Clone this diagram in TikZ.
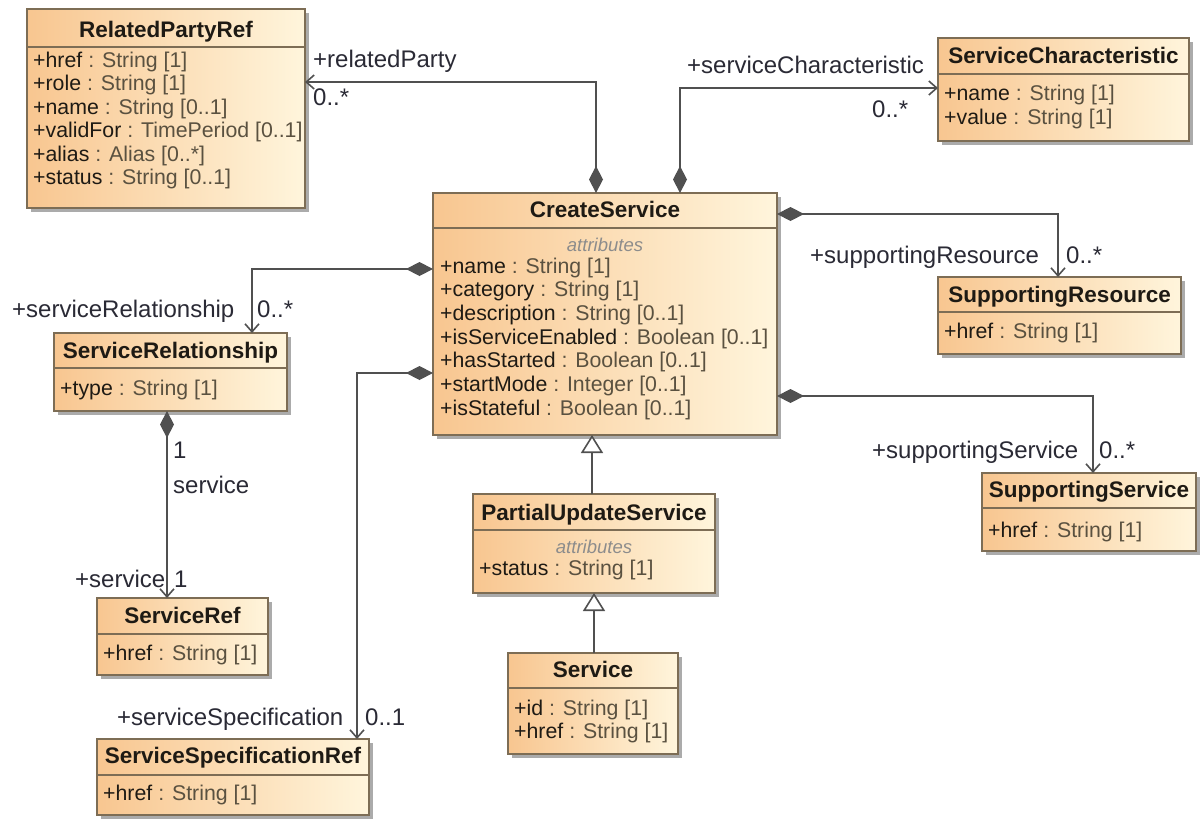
\documentclass[tikz,border=0pt]{standalone}
\usepackage{fontspec}
\setmainfont{Liberation Sans}
\usetikzlibrary{arrows.meta,calc,fit}

\definecolor{fillL}{HTML}{F8C690}
\definecolor{fillR}{HTML}{FFF5DC}
\definecolor{bord}{HTML}{7D6D55}
\definecolor{shad}{HTML}{ABABAB}
\definecolor{nmc}{HTML}{1E1A14}
\definecolor{tyc}{HTML}{5A5140}
\definecolor{linec}{HTML}{505050}
\definecolor{lblc}{HTML}{2A2A35}
\definecolor{stc}{HTML}{8C8C8C}

\tikzset{
  boxfill/.style={left color=fillL, right color=fillR, draw=bord, line width=1.4pt},
  ttl/.style={font=\fontsize{22.5}{24}\selectfont\bfseries, text=nmc, inner sep=0pt, anchor=base},
  attrrow/.style={font=\fontsize{21.3}{24}\selectfont, inner sep=0pt, anchor=base west, text=nmc},
  lbl/.style={font=\fontsize{24}{26}\selectfont, inner sep=0pt, anchor=base west, text=lblc},
  stereo/.style={font=\fontsize{18.5}{20}\selectfont\itshape, text=stc, inner sep=0pt, anchor=base},
  conn/.style={draw=linec, line width=1.6pt},
  comp/.style={conn, {Diamond[length=27pt,width=14pt,fill=linec]}-{Straight Barb[length=8pt,width=14pt]}},
  gen/.style={conn, -{Triangle[open,length=18pt,width=22pt,fill=white]}},
  anchorbox/.style={inner sep=0pt, outer sep=0pt, draw=none, fill=none},
}

% #1 name, #2 L, #3 T, #4 R, #5 B, #6 divider y, #7 title baseline, #8 title
\newcommand\umlclass[8]{%
  \fill[shad] (#2+4,#3+4) rectangle (#4+4,#5+4);
  \path[boxfill] (#2,#3) rectangle (#4,#5);
  \draw[bord, line width=1.4pt] (#2,#6) -- (#4,#6);
  \node[anchorbox, fit={(#2,#3) (#4,#5)}] (#1) {};
  \node[ttl] (#1-title) at ({(#2+#4)/2},#7) {#8};
}
\newcommand\att[2]{#1\ \textcolor{tyc}{: #2}}

\begin{document}
\begin{tikzpicture}[x=1pt, y=-1pt]
\useasboundingbox (0,0) rectangle (1200,819);
\fill[white] (0,0) rectangle (1200,819);

% ---------- classes ----------
\umlclass{rpr}{27}{9}{305}{208}{47}{37}{RelatedPartyRef}
\node[attrrow] (rpr-a1) at (33,67)    {\att{+href}{String [1]}};
\node[attrrow] (rpr-a2) at (33,90.5)  {\att{+role}{String [1]}};
\node[attrrow] (rpr-a3) at (33,114)   {\att{+name}{String [0..1]}};
\node[attrrow] (rpr-a4) at (33,137.5) {\att{+validFor}{TimePeriod [0..1]}};
\node[attrrow] (rpr-a5) at (33,161)   {\att{+alias}{Alias [0..*]}};
\node[attrrow] (rpr-a6) at (33,184.5) {\att{+status}{String [0..1]}};

\umlclass{sc}{938}{38}{1189}{141}{74}{63}{ServiceCharacteristic}
\node[attrrow] (sc-a1) at (944,100) {\att{+name}{String [1]}};
\node[attrrow] (sc-a2) at (944,124) {\att{+value}{String [1]}};

\umlclass{cs}{433}{193}{777}{435}{228}{217}{CreateService}
\node[stereo] (cs-st) at (605,251) {attributes};
\node[attrrow] (cs-a1) at (440,273)   {\att{+name}{String [1]}};
\node[attrrow] (cs-a2) at (440,296.7) {\att{+category}{String [1]}};
\node[attrrow] (cs-a3) at (440,320.4) {\att{+description}{String [0..1]}};
\node[attrrow] (cs-a4) at (440,344.1) {\att{+isServiceEnabled}{Boolean [0..1]}};
\node[attrrow] (cs-a5) at (440,367.8) {\att{+hasStarted}{Boolean [0..1]}};
\node[attrrow] (cs-a6) at (440,391.5) {\att{+startMode}{Integer [0..1]}};
\node[attrrow] (cs-a7) at (440,415.2) {\att{+isStateful}{Boolean [0..1]}};

\umlclass{sr}{938}{277}{1181}{354}{312}{302}{SupportingResource}
\node[attrrow] (sr-a1) at (944,338) {\att{+href}{String [1]}};

\umlclass{ss}{982}{473}{1196}{551}{508}{497}{SupportingService}
\node[attrrow] (ss-a1) at (988,537) {\att{+href}{String [1]}};

\umlclass{srel}{54}{333}{287}{411}{368}{358}{ServiceRelationship}
\node[attrrow] (srel-a1) at (60,395) {\att{+type}{String [1]}};

\umlclass{sref}{97}{598}{268}{675}{634}{623}{ServiceRef}
\node[attrrow] (sref-a1) at (103,660) {\att{+href}{String [1]}};

\umlclass{ssr}{97}{739}{369}{815}{775}{763}{ServiceSpecificationRef}
\node[attrrow] (ssr-a1) at (103,800) {\att{+href}{String [1]}};

\umlclass{pus}{473}{494}{715}{593}{530}{520}{PartialUpdateService}
\node[stereo] (pus-st) at (594,553) {attributes};
\node[attrrow] (pus-a1) at (479,575) {\att{+status}{String [1]}};

\umlclass{svc}{508}{653}{678}{754}{688}{677}{Service}
\node[attrrow] (svc-a1) at (514,715) {\att{+id}{String [1]}};
\node[attrrow] (svc-a2) at (514,738) {\att{+href}{String [1]}};

% ---------- connectors ----------
\draw[comp] ($(cs.north west)+(163,0)$) |- ($(rpr.north east)+(0,73)$);
\draw[comp] ($(cs.north west)+(247,0)$) |- ($(sc.north west)+(0,50)$);
\draw[comp] ($(cs.north east)+(0,21)$) -| ($(sr.north west)+(120,0)$);
\draw[comp] ($(cs.north east)+(0,203)$) -| ($(ss.north west)+(111,0)$);
\draw[comp] ($(cs.north west)+(0,76)$) -| ($(srel.north west)+(198,0)$);
\draw[comp] ($(cs.north west)+(0,180)$) -| ($(ssr.north west)+(260,0)$);
\draw[comp] ($(srel.south west)+(113,0)$) -- ($(sref.north west)+(70,0)$);

\coordinate (g1) at ($(pus.north west)+(119,0)$);
\draw[gen] (g1) -- (g1 |- cs.south);
\coordinate (g2) at ($(svc.north west)+(86,0)$);
\draw[gen] (g2) -- (g2 |- pus.south);

% ---------- labels ----------
\node[lbl] (l-rp)   at (313,67)  {+relatedParty};
\node[lbl] (m-rp)   at (313,105) {0..*};
\node[lbl] (l-sch)  at (687,73)  {+serviceCharacteristic};
\node[lbl] (m-sch)  at (872,117) {0..*};
\node[lbl] (l-sres) at (810,263) {+supportingResource};
\node[lbl] (m-sres) at (1066,263) {0..*};
\node[lbl] (l-ssv)  at (872,458) {+supportingService};
\node[lbl] (m-ssv)  at (1099,458) {0..*};
\node[lbl] (l-srel) at (12,317)  {+serviceRelationship};
\node[lbl] (m-srel) at (257,317) {0..*};
\node[lbl] (m-src)  at (173,458) {1};
\node[lbl] (n-svc)  at (173,493) {service};
\node[lbl] (l-svc)  at (75,587)  {+service};
\node[lbl] (m-svc)  at (174,587) {1};
\node[lbl] (l-spec) at (117,725) {+serviceSpecification};
\node[lbl] (m-spec) at (365,725) {0..1};
\end{tikzpicture}
\end{document}
